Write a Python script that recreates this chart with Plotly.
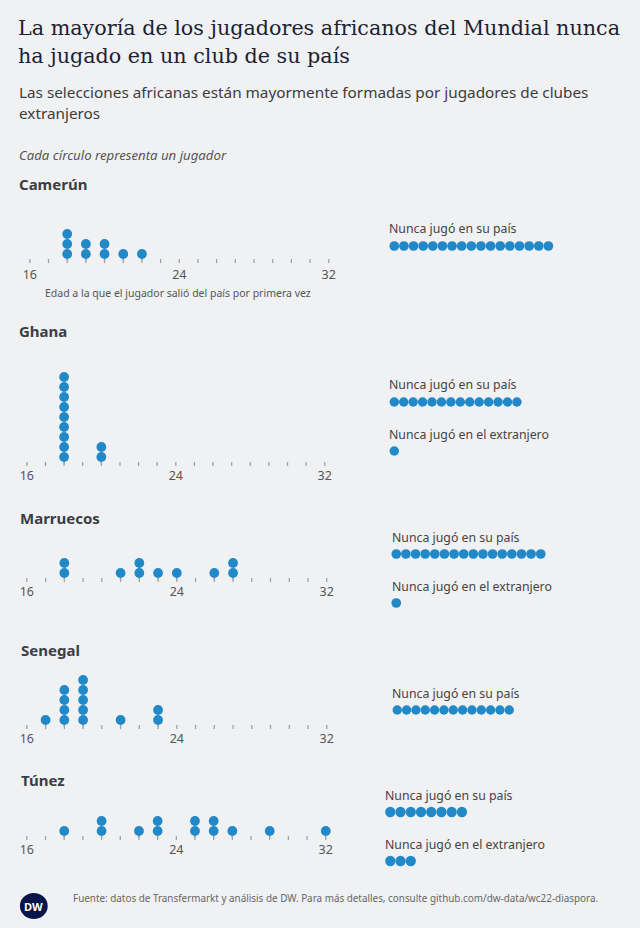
import plotly.graph_objects as go

W, H = 640, 928
BG = "#f0f1f3"
BLUE = "#2289c9"
TICKC = "#a3a3a3"
SANS = "Noto Sans"

# ---------------- data ----------------
countries = ["Camerún", "Ghana", "Marruecos", "Senegal", "Túnez"]

cam_ages = [18, 19, 20, 21, 22]
cam_counts = [3, 2, 2, 1, 1]
gha_ages = [18, 20]
gha_counts = [9, 2]
mar_ages = [18, 21, 22, 23, 24, 26, 27]
mar_counts = [2, 1, 2, 1, 1, 1, 2]
sen_ages = [17, 18, 19, 21, 23]
sen_counts = [1, 4, 5, 1, 2]
tun_ages = [18, 20, 22, 23, 25, 26, 27, 29, 32]
tun_counts = [1, 2, 1, 2, 2, 2, 1, 1, 1]

never_home = [17, 14, 16, 13, 8]     # Nunca jugó en su país
never_abroad = [0, 1, 1, 0, 3]       # Nunca jugó en el extranjero

age_min, age_max = 16, 32
age_ticks = [16, 24, 32]

ages = [cam_ages, gha_ages, mar_ages, sen_ages, tun_ages]
counts = [cam_counts, gha_counts, mar_counts, sen_counts, tun_counts]

# ---------------- layout (pixel positions) ----------------
left_cfg = [  # tick row y, x of 16, x of 32, title y, title x, label standoff
    dict(ty=261, x0=28, x1=329, tt=184, tx=15, so=4),
    dict(ty=464, x0=25, x1=325, tt=331, tx=15, so=2),
    dict(ty=580, x0=25, x1=327, tt=518, tx=16, so=2),
    dict(ty=727, x0=25, x1=327, tt=650, tx=17, so=2),
    dict(ty=838, x0=25, x1=326, tt=780, tx=17, so=2),
]
right_cfg = [  # first dot x, spacing, first row y, label x
    dict(x0=395, s=9.7, y0=246, lx=388),
    dict(x0=395, s=9.5, y0=402, lx=388),
    dict(x0=397, s=9.7, y0=554, lx=391),
    dict(x0=398, s=9.4, y0=710, lx=391),
    dict(x0=391, s=10.3, y0=812, lx=384),
]
ROWGAP = 49


def fx(px):
    # empirical correction of the renderer's horizontal placement
    return ((px - 5) / 0.985) / W


def fy(py):
    return 1 - py / H


fig = go.Figure()
layout_axes = {}
annotations = []
ax = 0

for i, c in enumerate(countries):
    cfg = left_cfg[i]
    ax += 1
    xa, ya = f"x{ax}", f"y{ax}"
    xk, yk = f"xaxis{ax}", f"yaxis{ax}"
    layout_axes[xk] = dict(domain=[fx(cfg["x0"]), fx(cfg["x1"])], range=[age_min, age_max],
                           anchor=ya, tickvals=age_ticks, ticks="", showgrid=False,
                           zeroline=False, showline=False, fixedrange=True,
                           tickfont=dict(family=SANS, size=12.5, color="#555555"),
                           ticklabelstandoff=cfg["so"])
    layout_axes[yk] = dict(domain=[fy(cfg["ty"]), fy(cfg["ty"] - 100)], range=[0, 10],
                           anchor=xa, visible=False, fixedrange=True)
    # tick marks for each year
    yrs = list(range(age_min, age_max + 1))
    fig.add_trace(go.Scatter(x=yrs, y=[0] * len(yrs), xaxis=xa, yaxis=ya, mode="markers",
                             marker=dict(symbol="line-ns", size=3,
                                         line=dict(color=TICKC, width=1.3)),
                             hoverinfo="skip", showlegend=False, cliponaxis=False))
    # stems
    sx, sy = [], []
    for a in ages[i]:
        sx += [a, a, None]
        sy += [-0.15, 0.7, None]
    fig.add_trace(go.Scatter(x=sx, y=sy, xaxis=xa, yaxis=ya, mode="lines",
                             line=dict(color=TICKC, width=1.3),
                             hoverinfo="skip", showlegend=False, cliponaxis=False))
    # dots
    dx, dy = [], []
    for a, n in zip(ages[i], counts[i]):
        for k in range(n):
            dx.append(a)
            dy.append(0.7 + k)
    fig.add_trace(go.Scatter(x=dx, y=dy, xaxis=xa, yaxis=ya, mode="markers",
                             marker=dict(color=BLUE, size=9.8, line=dict(width=0)),
                             showlegend=False, cliponaxis=False))
    annotations.append(dict(text=f"<b>{c}</b>", x=fx(cfg["tx"]), y=fy(cfg["tt"]),
                            xref="paper", yref="paper", xanchor="left", yanchor="middle",
                            showarrow=False,
                            font=dict(family=SANS, size=15, color="#3a3e46")))

    # right side rows
    rc = right_cfg[i]
    ax += 1
    xa, ya = f"x{ax}", f"y{ax}"
    xk, yk = f"xaxis{ax}", f"yaxis{ax}"
    s = rc["s"]
    d0 = fx(rc["x0"] - s / 2)
    d1 = fx(rc["x0"] + s / 2)
    step = d1 - d0  # paper fraction per dot
    layout_axes[xk] = dict(domain=[d0, 1],
                           range=[-0.5, -0.5 + (1 - d0) / step],
                           anchor=ya, visible=False, fixedrange=True)
    layout_axes[yk] = dict(domain=[fy(rc["y0"] + ROWGAP + 20), fy(rc["y0"] - 20)],
                           range=[-1 - 20 / ROWGAP, 20 / ROWGAP],
                           anchor=xa, visible=False, fixedrange=True)
    rows = [(never_home[i], 0, "Nunca jugó en su país"),
            (never_abroad[i], -1, "Nunca jugó en el extranjero")]
    for n, yv, lab in rows:
        if n == 0:
            continue
        fig.add_trace(go.Scatter(x=list(range(n)), y=[yv] * n, xaxis=xa, yaxis=ya,
                                 mode="markers",
                                 marker=dict(color=BLUE, size=s, line=dict(width=0)),
                                 showlegend=False, cliponaxis=False))
        annotations.append(dict(text=lab, x=fx(rc["lx"]), y=fy(rc["y0"] - yv * ROWGAP - 17),
                                xref="paper", yref="paper", xanchor="left", yanchor="middle",
                                showarrow=False,
                                font=dict(family=SANS, size=12.3, color="#444444")))

# axis title under Camerún
annotations.append(dict(text="Edad a la que el jugador salió del país por primera vez",
                        x=fx(177), y=fy(293), xref="paper", yref="paper",
                        xanchor="center", yanchor="middle", showarrow=False,
                        font=dict(family=SANS, size=10.5, color="#555555")))

# headline, subtitle, note
annotations += [
    dict(text="La mayoría de los jugadores africanos del Mundial nunca",
         x=fx(14), y=fy(28), xref="paper", yref="paper", xanchor="left", yanchor="middle",
         showarrow=False, font=dict(family="DejaVu Serif", size=20.7, color="#1b2233")),
    dict(text="ha jugado en un club de su país",
         x=fx(14), y=fy(56), xref="paper", yref="paper", xanchor="left", yanchor="middle",
         showarrow=False, font=dict(family="DejaVu Serif", size=20.7, color="#1b2233")),
    dict(text="Las selecciones africanas están mayormente formadas por jugadores de clubes",
         x=fx(15), y=fy(92), xref="paper", yref="paper", xanchor="left", yanchor="middle",
         showarrow=False, font=dict(family=SANS, size=15.3, color="#3c3c3c")),
    dict(text="extranjeros",
         x=fx(15), y=fy(113), xref="paper", yref="paper", xanchor="left", yanchor="middle",
         showarrow=False, font=dict(family=SANS, size=15.3, color="#3c3c3c")),
    dict(text="<i>Cada círculo representa un jugador</i>",
         x=fx(15), y=fy(155), xref="paper", yref="paper", xanchor="left", yanchor="middle",
         showarrow=False, font=dict(family=SANS, size=13.2, color="#555555")),
    dict(text="Fuente: datos de Transfermarkt y análisis de DW. Para más detalles, consulte github.com/dw-data/wc22-diaspora.",
         x=fx(69), y=fy(898), xref="paper", yref="paper", xanchor="left", yanchor="middle",
         showarrow=False, font=dict(family=SANS, size=9.9, color="#666666")),
    dict(text="<b>DW</b>", x=fx(32), y=fy(906), xref="paper", yref="paper",
         xanchor="center", yanchor="middle", showarrow=False,
         font=dict(family=SANS, size=11, color="#ffffff")),
]

shapes = [dict(type="circle", xref="paper", yref="paper",
               x0=fx(18), x1=fx(46), y0=fy(919), y1=fy(893),
               fillcolor="#07154a", line=dict(width=0), layer="below")]

fig.update_layout(width=W, height=H, margin=dict(l=0, r=0, t=0, b=0),
                  paper_bgcolor=BG, plot_bgcolor="rgba(0,0,0,0)",
                  annotations=annotations, shapes=shapes, showlegend=False,
                  **layout_axes)

fig.write_html("out.html", config=dict(displayModeBar=False),
               post_script="document.body.style.margin='0px';document.body.style.padding='0px';")
